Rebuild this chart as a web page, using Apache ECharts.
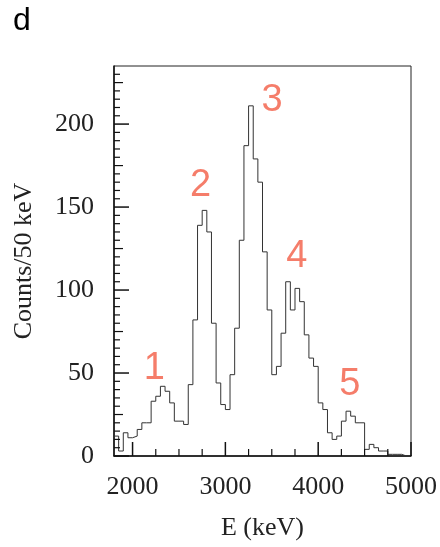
<!DOCTYPE html>
<html>
<head>
<meta charset="utf-8">
<script src="https://cdn.jsdelivr.net/npm/echarts@6/dist/echarts.min.js"></script>
<style>
  html, body { margin: 0; padding: 0; background: #fff; }
  #chart { width: 440px; height: 547px; }
</style>
</head>
<body>
<div id="chart"></div>
<script>
// histogram, 50 keV bins starting at 1800 keV
var binStart = 1800;
var binWidth = 50;
var counts = [12, 3, 14, 11, 12, 16, 20, 20, 33, 36,
              42, 39, 32, 21, 21, 19, 43, 82, 139, 148,
              135, 80, 44, 31, 28, 49, 77, 130, 187, 211,
              179, 165, 123, 88, 49, 54, 74, 105, 88, 101,
              93, 73, 59, 54, 32, 28, 14, 10, 12, 21,
              27, 24, 20, 20, 4, 7, 5, 3, 3, 1,
              1, 1, 0, 0];

// axis ticks
var xMajor = [2000, 3000, 4000, 5000];
var xMinor = [2250, 2500, 2750, 3250, 3500, 3750, 4250, 4500, 4750];
var yMajor = [0, 50, 100, 150, 200];
var yMinor = [];
for (var v = 5; v < 235; v += 5) {
    if (v % 50 !== 0) yMinor.push(v);
}

// peak labels (position in data units)
var peakNames = ['1', '2', '3', '4', '5'];
var peakE = [2235, 2734, 3502, 3770, 4340];
var peakY = [53, 163, 214, 120, 43];

var histData = [];
for (var i = 0; i < counts.length; i++) {
    histData.push([binStart + i * binWidth, counts[i]]);
}
histData.push([binStart + counts.length * binWidth, counts[counts.length - 1]]);

var peakData = [];
for (var j = 0; j < peakNames.length; j++) {
    peakData.push({ name: peakNames[j], value: [peakE[j], peakY[j]] });
}

var serif = 'Liberation Serif';
var myChart = echarts.init(document.getElementById('chart'), null, { renderer: 'canvas' });

var option = {
    animation: false,
    title: {
        text: 'd',
        left: 8,
        top: 0,
        textStyle: { fontFamily: 'Liberation Sans', fontSize: 32, fontWeight: 'normal', color: '#000' }
    },
    grid: {
        left: 114, top: 66, width: 298, height: 390,
        show: true, borderColor: '#222', borderWidth: 1
    },
    xAxis: {
        type: 'value', min: 1800, max: 5000,
        name: 'E (keV)', nameLocation: 'middle', nameGap: 59,
        nameTextStyle: { fontFamily: serif, fontSize: 26, color: '#222' },
        splitLine: { show: false },
        axisLine: { show: true, lineStyle: { color: '#111', width: 1.5 } },
        axisTick: { show: false },
        axisLabel: {
            customValues: xMajor, margin: 18, fontFamily: serif, fontSize: 26, color: '#222',
            formatter: function (val) { return String(val); }
        }
    },
    yAxis: {
        type: 'value', min: 0, max: 235,
        name: 'Counts/50 keV', nameLocation: 'middle', nameGap: 77,
        nameTextStyle: { fontFamily: serif, fontSize: 26, color: '#222' },
        splitLine: { show: false },
        axisLine: { show: true, lineStyle: { color: '#111', width: 1.5 } },
        axisTick: { show: false },
        axisLabel: {
            customValues: yMajor, margin: 20, fontFamily: serif, fontSize: 26, color: '#222',
            formatter: function (val) { return String(val); }
        }
    },
    series: [{
        type: 'line',
        step: 'end',
        showSymbol: false,
        data: histData,
        lineStyle: { color: '#333', width: 1 },
        silent: true
    }, {
        type: 'scatter',
        symbolSize: 1,
        itemStyle: { color: 'transparent' },
        data: peakData,
        label: {
            show: true, position: 'inside',
            formatter: '{b}',
            fontFamily: 'Liberation Sans', fontSize: 38, color: '#f25c45'
        },
        silent: true
    }]
};

myChart.setOption(option);

// inward ticks, placed through the axes' own scales
function tickLines() {
    var g = [];
    var ref = { xAxisIndex: 0, yAxisIndex: 0 };
    function xTick(val, len, w) {
        var p = myChart.convertToPixel(ref, [val, 0]);
        g.push({ type: 'line', shape: { x1: p[0], y1: p[1], x2: p[0], y2: p[1] - len },
                 style: { stroke: '#111', lineWidth: w }, silent: true, z: 10 });
    }
    function yTick(val, len, w) {
        var p = myChart.convertToPixel(ref, [1800, val]);
        g.push({ type: 'line', shape: { x1: p[0], y1: p[1], x2: p[0] + len, y2: p[1] },
                 style: { stroke: '#111', lineWidth: w }, silent: true, z: 10 });
    }
    xMajor.forEach(function (v) { xTick(v, 14, 1.5); });
    xMinor.forEach(function (v) { xTick(v, 7, 1.2); });
    yMajor.forEach(function (v) { yTick(v, 15, 1.5); });
    yMinor.forEach(function (v) { yTick(v, v % 25 === 0 ? 9 : 6, 1.2); });
    return g;
}
myChart.setOption({ graphic: tickLines() });
window.onresize = myChart.resize;
</script>
</body>
</html>
